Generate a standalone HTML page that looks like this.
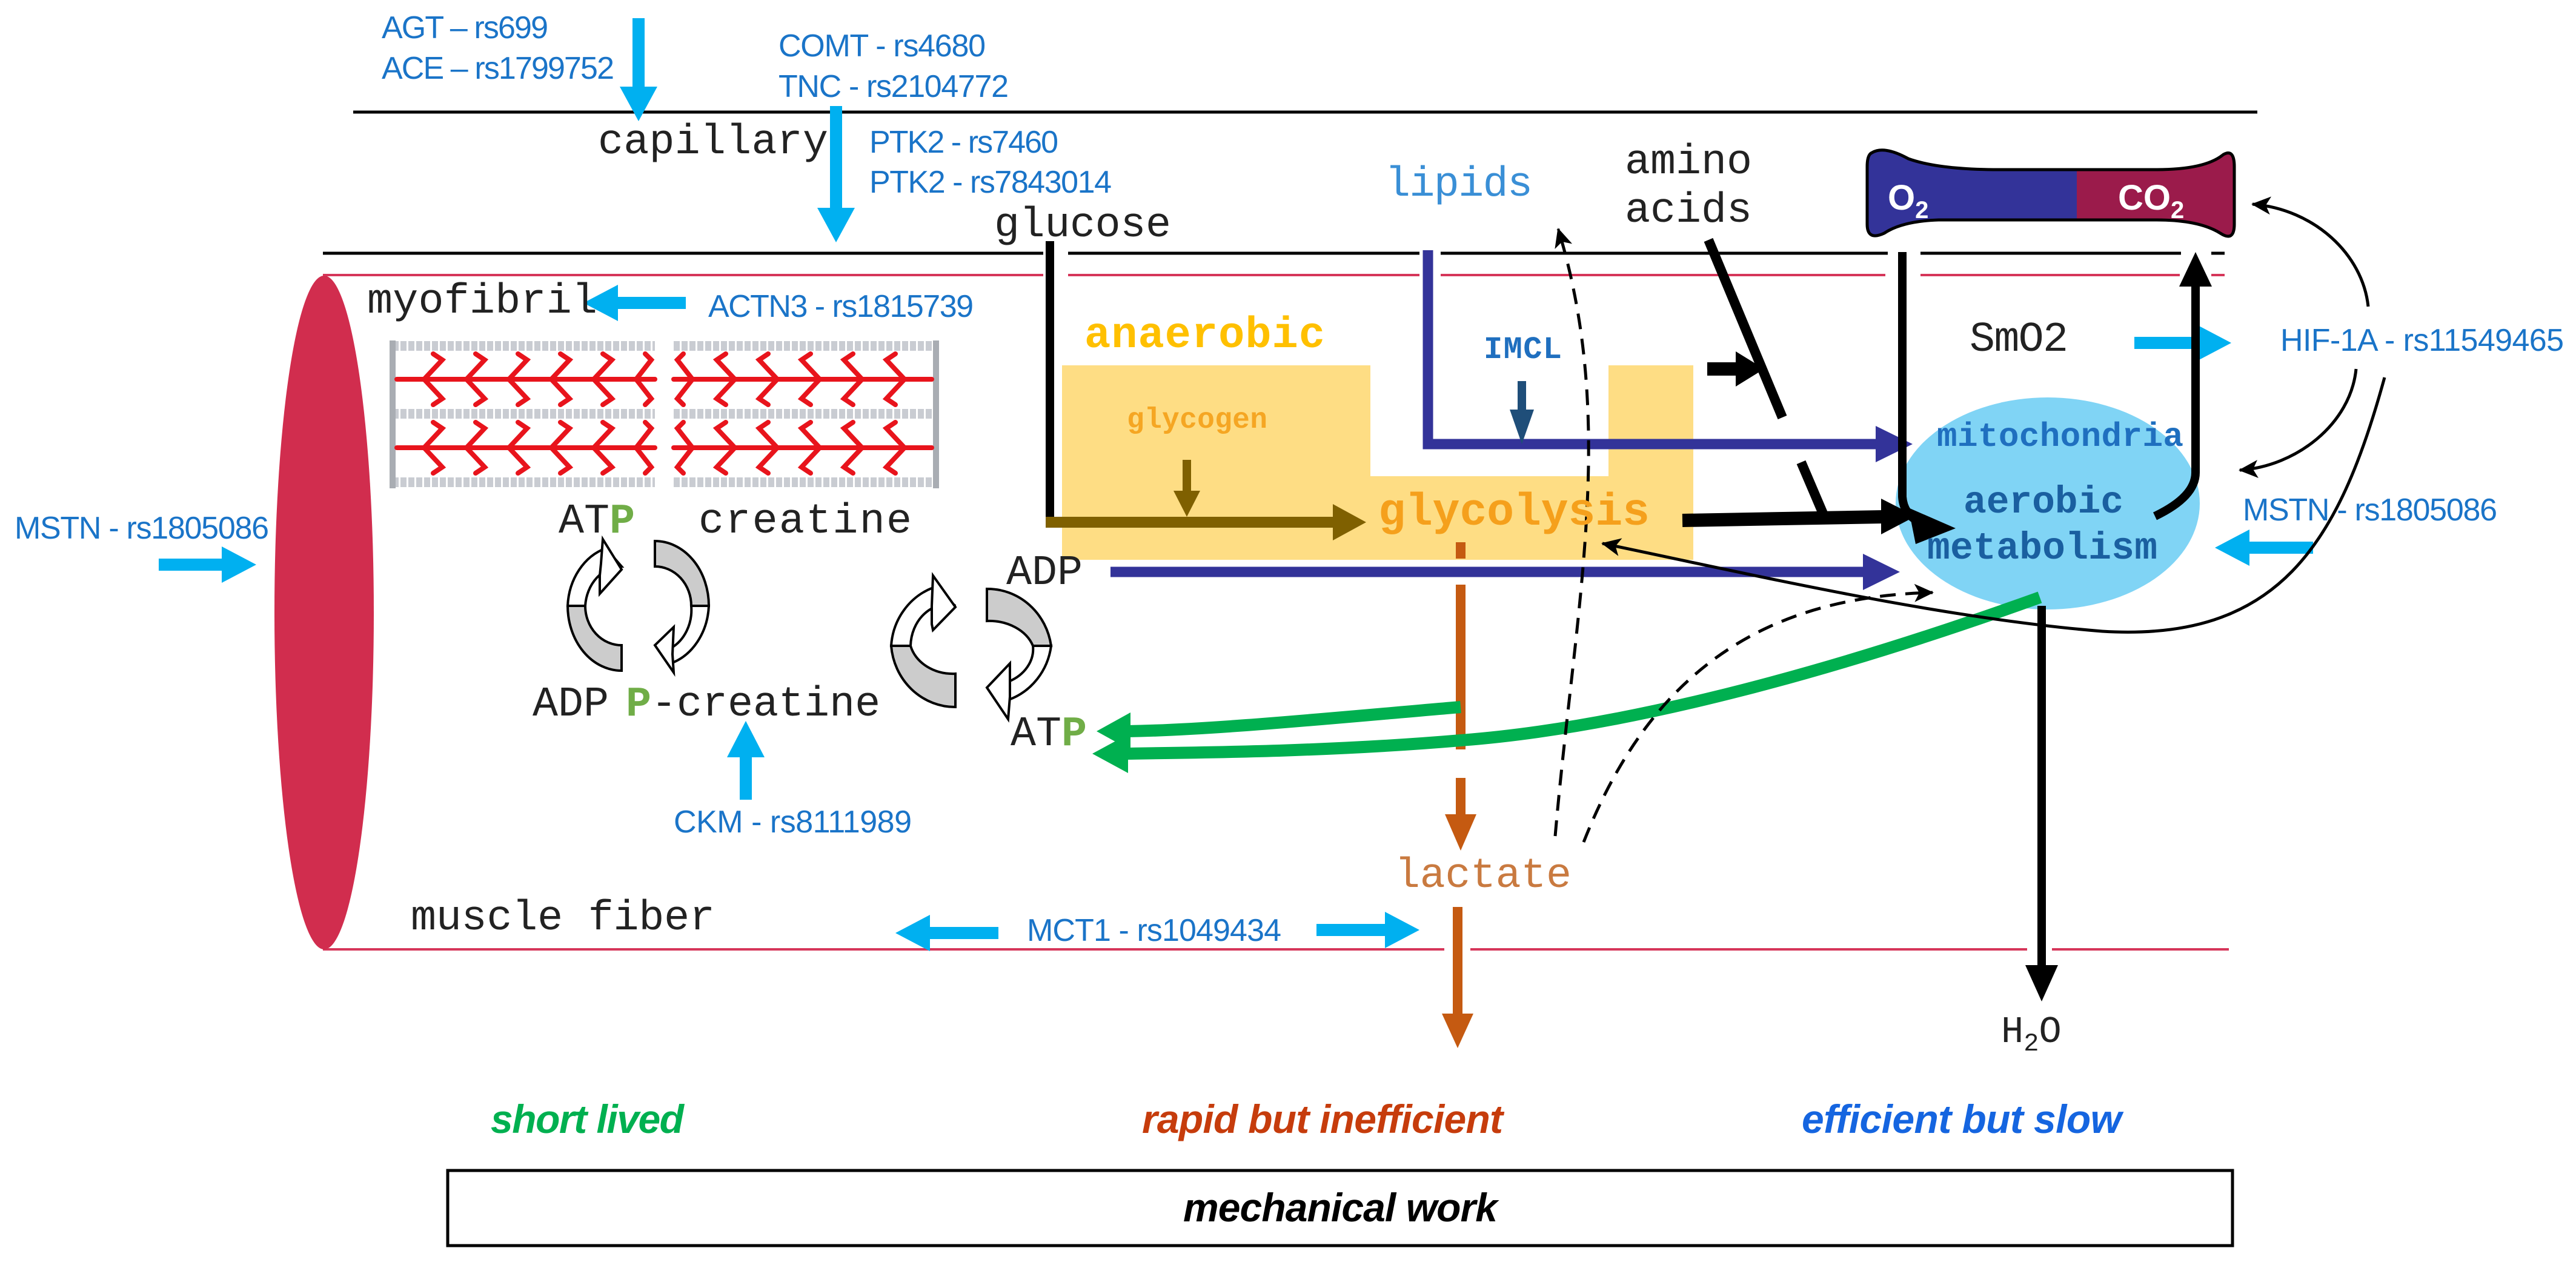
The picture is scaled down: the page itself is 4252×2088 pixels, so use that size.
<!DOCTYPE html>
<html><head><meta charset="utf-8"><style>
html,body{margin:0;padding:0;background:#fff;}
svg{display:block;}
.g{font-family:"Liberation Sans Narrow","Liberation Sans",sans-serif;fill:#1a74c8;font-size:52px;}
.m{font-family:"Liberation Mono",monospace;fill:#222;font-size:70px;}
.b{font-weight:bold;}
.it{font-family:"Liberation Sans Narrow","Liberation Sans",sans-serif;font-style:italic;font-weight:bold;font-size:66px;}
</style></head><body>
<svg width="4252" height="2088" viewBox="0 0 4252 2088" xmlns="http://www.w3.org/2000/svg">
<defs>
<marker id="ah" markerUnits="userSpaceOnUse" markerWidth="40" markerHeight="40" refX="30" refY="15" orient="auto"><path d="M0,0 L32,15 L0,30 L8,15 Z" fill="#000"/></marker>
<clipPath id="tube"><path d="M3090,252 Q3110,240 3150,262 Q3200,280 3300,280 L3560,280 Q3640,280 3670,255 Q3688,245 3688,275 L3688,370 Q3688,400 3665,385 Q3630,363 3560,363 L3200,363 Q3140,365 3110,385 Q3082,398 3082,370 L3082,275 Q3082,255 3090,252 Z"/></clipPath>
</defs>
<rect width="4252" height="2088" fill="#fff"/>

<polygon points="1753,603 2262,603 2262,786 2655,786 2655,603 2795,603 2795,924 1753,924" fill="#fedd84"/>

<line x1="583" y1="185" x2="3726" y2="185" stroke="#000" stroke-width="5"/>
<g stroke="#000" stroke-width="5">
<line x1="533" y1="418" x2="1722" y2="418"/><line x1="1763" y1="418" x2="2343" y2="418"/>
<line x1="2378" y1="418" x2="3116" y2="418"/><line x1="3170" y1="418" x2="3600" y2="418"/>
<line x1="3650" y1="418" x2="3672" y2="418"/>
</g>
<g stroke="#d6365a" stroke-width="4">
<line x1="533" y1="454" x2="1722" y2="454"/><line x1="1763" y1="454" x2="2343" y2="454"/>
<line x1="2378" y1="454" x2="3112" y2="454"/><line x1="3170" y1="454" x2="3598" y2="454"/>
<line x1="3650" y1="454" x2="3672" y2="454"/>
<line x1="533" y1="1567" x2="2384" y2="1567"/><line x1="2427" y1="1567" x2="3346" y2="1567"/><line x1="3387" y1="1567" x2="3679" y2="1567"/>
</g>

<ellipse cx="535" cy="1011" rx="82" ry="556" fill="#d12d4e"/>

<g>
<g stroke="#c9ccd2" stroke-width="16" stroke-dasharray="10 3">
<line x1="648" y1="571" x2="1081" y2="571"/><line x1="648" y1="683" x2="1081" y2="683"/><line x1="648" y1="796" x2="1081" y2="796"/>
<line x1="1112" y1="571" x2="1545" y2="571"/><line x1="1112" y1="683" x2="1545" y2="683"/><line x1="1112" y1="796" x2="1545" y2="796"/>
</g>
<g stroke="#a9adb3" stroke-width="10"><line x1="648" y1="562" x2="648" y2="806"/><line x1="1545" y1="562" x2="1545" y2="806"/></g>
<g stroke="#e8141c" stroke-width="8" fill="none" stroke-linecap="round">
<line x1="655" y1="626" x2="1081" y2="626"/><line x1="655" y1="739" x2="1081" y2="739"/>
<line x1="1112" y1="626" x2="1538" y2="626"/><line x1="1112" y1="739" x2="1538" y2="739"/>
<path d="M700,626 L730,594 L715,584 M700,626 L730,658 L715,668 M770,626 L800,594 L785,584 M770,626 L800,658 L785,668 M840,626 L870,594 L855,584 M840,626 L870,658 L855,668 M910,626 L940,594 L925,584 M910,626 L940,658 L925,668 M980,626 L1010,594 L995,584 M980,626 L1010,658 L995,668 M1050,626 L1075,594 L1065,584 M1050,626 L1075,658 L1065,668"/>
<path d="M700,739 L730,707 L715,697 M700,739 L730,771 L715,781 M770,739 L800,707 L785,697 M770,739 L800,771 L785,781 M840,739 L870,707 L855,697 M840,739 L870,771 L855,781 M910,739 L940,707 L925,697 M910,739 L940,771 L925,781 M980,739 L1010,707 L995,697 M980,739 L1010,771 L995,781 M1050,739 L1075,707 L1065,697 M1050,739 L1075,771 L1065,781"/>
<path d="M1493,626 L1463,594 L1478,584 M1493,626 L1463,658 L1478,668 M1423,626 L1393,594 L1408,584 M1423,626 L1393,658 L1408,668 M1353,626 L1323,594 L1338,584 M1353,626 L1323,658 L1338,668 M1283,626 L1253,594 L1268,584 M1283,626 L1253,658 L1268,668 M1213,626 L1183,594 L1198,584 M1213,626 L1183,658 L1198,668 M1143,626 L1118,594 L1128,584 M1143,626 L1118,658 L1128,668"/>
<path d="M1493,739 L1463,707 L1478,697 M1493,739 L1463,771 L1478,781 M1423,739 L1393,707 L1408,697 M1423,739 L1393,771 L1408,781 M1353,739 L1323,707 L1338,697 M1353,739 L1323,771 L1338,781 M1283,739 L1253,707 L1268,697 M1283,739 L1253,771 L1268,781 M1213,739 L1183,707 L1198,697 M1213,739 L1183,771 L1198,781 M1143,739 L1118,707 L1128,697 M1143,739 L1118,771 L1128,781"/>
</g>
</g>

<g stroke="#000" stroke-width="4">
<path d="M1026,935 A60,70 0 0 0 966,1000 L937,1000 A89,105 0 0 1 1000,905 Z" fill="#fff"/>
<polygon points="992,930 995,890 1026,940 990,980 990,950" fill="#fff"/>
<path d="M937,1000 A89,107 0 0 0 1026,1107 L1026,1065 A60,65 0 0 1 966,1000 Z" fill="#ccc"/>
<path d="M1081,893 A89,107 0 0 1 1170,1000 L1141,1000 A60,65 0 0 0 1081,935 Z" fill="#ccc"/>
<path d="M1170,1000 A89,105 0 0 1 1107,1095 L1107,1070 A60,70 0 0 0 1141,1000 Z" fill="#fff"/>
<polygon points="1112,1035 1081,1065 1112,1110 1110,1080" fill="#fff"/>
<path d="M1577,1000 A60,70 0 0 0 1503,1066 L1471,1066 A106,110 0 0 1 1540,970 Z" fill="#fff"/>
<polygon points="1538,1000 1540,950 1577,1002 1540,1040 1538,1030" fill="#fff"/>
<path d="M1471,1066 A106,110 0 0 0 1577,1167 L1577,1112 A72,60 0 0 1 1503,1066 Z" fill="#ccc"/>
<path d="M1629,972 A106,110 0 0 1 1735,1066 L1705,1066 A76,60 0 0 0 1629,1025 Z" fill="#ccc"/>
<path d="M1735,1066 A106,110 0 0 1 1665,1155 L1665,1125 A72,60 0 0 0 1705,1066 Z" fill="#fff"/>
<polygon points="1667,1095 1629,1135 1664,1187 1667,1150" fill="#fff"/>
</g>

<g fill="#00b0f0">
<polygon points="1044,30 1064,30 1064,143 1085,143 1054,200 1023,143 1044,143"/>
<polygon points="1370,175 1390,175 1390,343 1411,343 1380,400 1349,343 1370,343"/>
<polygon points="1132,490 1020,490 1020,470 963,500 1020,530 1020,510 1132,510"/>
<polygon points="262,922 366,922 366,902 423,932 366,962 366,942 262,942"/>
<polygon points="1221,1320 1221,1250 1200,1250 1231,1190 1262,1250 1241,1250 1241,1320"/>
<polygon points="1648,1530 1535,1530 1535,1510 1478,1540 1535,1570 1535,1550 1648,1550"/>
<polygon points="2173,1525 2286,1525 2286,1505 2343,1535 2286,1565 2286,1545 2173,1545"/>
<polygon points="3523,556 3626,556 3626,536 3683,566 3626,596 3626,576 3523,576"/>
<polygon points="3818,894 3713,894 3713,874 3656,904 3713,934 3713,914 3818,914"/>
</g>

<path d="M1733,398 V866" stroke="#000" stroke-width="14" fill="none"/>
<line x1="1726" y1="862" x2="2205" y2="862" stroke="#7f6000" stroke-width="18"/>
<polygon points="2200,832 2255,862 2200,892" fill="#7f6000"/>
<line x1="1959" y1="759" x2="1959" y2="815" stroke="#7f6000" stroke-width="14"/>
<polygon points="1937,810 1981,810 1959,853" fill="#7f6000"/>

<line x1="1833" y1="944" x2="3080" y2="944" stroke="#333399" stroke-width="17"/>
<polygon points="3075,914 3136,944 3075,974" fill="#333399"/>
<path d="M2357,413 V733 H3100" stroke="#333399" stroke-width="17" fill="none"/>
<polygon points="3096,703 3157,733 3096,763" fill="#333399"/>
<line x1="2512" y1="629" x2="2512" y2="680" stroke="#1f4e79" stroke-width="14"/>
<polygon points="2492,676 2532,676 2512,733" fill="#1f4e79"/>

<ellipse cx="3380" cy="831" rx="251" ry="175" fill="#80d4f5"/>

<line x1="2820" y1="396" x2="2942" y2="689" stroke="#000" stroke-width="16"/>
<line x1="2973" y1="763" x2="3014" y2="859" stroke="#000" stroke-width="16"/>
<line x1="2818" y1="609" x2="2870" y2="609" stroke="#000" stroke-width="22"/>
<polygon points="2865,580 2912,609 2865,638" fill="#000"/>
<line x1="2777" y1="859" x2="3110" y2="853" stroke="#000" stroke-width="22"/>
<polygon points="3105,823 3162,852 3105,882" fill="#000"/>
<path d="M3140,416 V820 Q3142,850 3170,862" stroke="#000" stroke-width="14" fill="none"/>
<polygon points="3150,838 3228,872 3162,898" fill="#000"/>
<path d="M3557,852 Q3624,820 3624,780 V470" stroke="#000" stroke-width="14" fill="none"/>
<polygon points="3597,473 3651,473 3624,416" fill="#000"/>
<line x1="3370" y1="1000" x2="3370" y2="1600" stroke="#000" stroke-width="14"/>
<polygon points="3343,1593 3397,1593 3370,1653" fill="#000"/>

<g stroke="#c55a11" stroke-width="16">
<line x1="2411" y1="895" x2="2411" y2="922"/><line x1="2411" y1="965" x2="2411" y2="1237"/>
<line x1="2411" y1="1284" x2="2411" y2="1350"/><line x1="2406" y1="1497" x2="2406" y2="1680"/>
</g>
<polygon points="2385,1344 2437,1344 2411,1404" fill="#c55a11"/>
<polygon points="2380,1673 2432,1673 2406,1730" fill="#c55a11"/>

<g stroke="#00b050" stroke-width="20" fill="none">
<path d="M3367,986 C3050,1100 2700,1200 2411,1222 C2200,1240 2000,1242 1855,1244"/>
<path d="M2411,1167 C2200,1185 2000,1205 1860,1207"/>
</g>
<polygon points="1862,1212 1803,1244 1862,1276" fill="#00b050"/>
<polygon points="1866,1176 1810,1207 1866,1238" fill="#00b050"/>

<g stroke="#000" stroke-width="5" fill="none" stroke-dasharray="26 16">
<path d="M2567,1380 C2600,1000 2670,700 2572,378" marker-end="url(#ah)"/>
<path d="M2614,1390 C2720,1120 2900,985 3190,978" marker-end="url(#ah)"/>
</g>
<g stroke="#000" stroke-width="5" fill="none">
<path d="M3909,506 C3900,420 3820,345 3718,337" marker-end="url(#ah)"/>
<path d="M3889,609 C3880,700 3790,770 3697,776" marker-end="url(#ah)"/>
<path d="M3936,623 C3860,900 3760,1060 3470,1042 C3200,1020 2900,950 2645,897" marker-end="url(#ah)"/>
</g>

<g clip-path="url(#tube)">
<rect x="3070" y="230" width="360" height="180" fill="#333399"/>
<rect x="3428" y="230" width="270" height="180" fill="#9b1b4b"/>
</g>
<path d="M3090,252 Q3110,240 3150,262 Q3200,280 3300,280 L3560,280 Q3640,280 3670,255 Q3688,245 3688,275 L3688,370 Q3688,400 3665,385 Q3630,363 3560,363 L3200,363 Q3140,365 3110,385 Q3082,398 3082,370 L3082,275 Q3082,255 3090,252 Z" fill="none" stroke="#000" stroke-width="5"/>
<text x="3116" y="346" style="font-family:'Liberation Sans',sans-serif;font-weight:bold;font-size:58px;fill:#fff">O<tspan style="font-size:40px" dy="14">2</tspan></text>
<text x="3496" y="346" style="font-family:'Liberation Sans',sans-serif;font-weight:bold;font-size:58px;fill:#fff">CO<tspan style="font-size:40px" dy="14">2</tspan></text>

<text class="g" x="630" y="63" textLength="275">AGT – rs699</text>
<text class="g" x="630" y="130" textLength="384">ACE – rs1799752</text>
<text class="g" x="1285" y="93" textLength="342">COMT - rs4680</text>
<text class="g" x="1285" y="160" textLength="380">TNC - rs2104772</text>
<text class="g" x="1435" y="252" textLength="312">PTK2 - rs7460</text>
<text class="g" x="1435" y="318" textLength="400">PTK2 - rs7843014</text>
<text class="g" x="1169" y="523" textLength="438">ACTN3 - rs1815739</text>
<text class="g" x="24" y="889" textLength="420">MSTN - rs1805086</text>
<text class="g" x="1112" y="1374" textLength="393">CKM - rs8111989</text>
<text class="g" x="1695" y="1553" textLength="420">MCT1 - rs1049434</text>
<text class="g" x="3764" y="579" textLength="468">HIF-1A - rs11549465</text>
<text class="g" x="3702" y="859" textLength="420">MSTN - rs1805086</text>

<text class="m" x="987" y="253" textLength="380">capillary</text>
<text class="m" x="1641" y="390" textLength="292">glucose</text>
<text class="m" x="606" y="516" textLength="380">myofibril</text>
<text class="m" x="922" y="879">AT<tspan style="fill:#70ad47;font-weight:bold">P</tspan></text>
<text class="m" x="1153" y="879" textLength="352">creatine</text>
<text class="m" x="1661" y="964">ADP</text>
<text class="m" x="879" y="1181">ADP</text>
<text class="m" x="1033" y="1181"><tspan style="fill:#70ad47;font-weight:bold">P</tspan>-creatine</text>
<text class="m" x="1668" y="1230">AT<tspan style="fill:#70ad47;font-weight:bold">P</tspan></text>
<text class="m" x="678" y="1534" textLength="502">muscle fiber</text>
<text class="m" x="2302" y="1464" textLength="292" style="fill:#c97a40">lactate</text>
<text class="m" x="3303" y="1720" style="font-size:62px">H<tspan style="font-size:42px" dy="14">2</tspan><tspan dy="-14">O</tspan></text>
<text class="m" x="2286" y="323" textLength="244" style="fill:#3a8fd6">lipids</text>
<text class="m" x="2682" y="286">amino</text>
<text class="m" x="2682" y="366">acids</text>
<text class="m" x="3251" y="579" textLength="163">SmO2</text>
<text class="m b" x="1790" y="573" textLength="397" style="fill:#ffc000;font-size:72px">anaerobic</text>
<text class="m b" x="1860" y="706" textLength="232" style="fill:#f5a623;font-size:48px">glycogen</text>
<text class="m b" x="2275" y="866" textLength="448" style="fill:#f5a01c;font-size:75px">glycolysis</text>
<text class="m b" x="2449" y="591" textLength="129" style="fill:#1f6fbf;font-size:52px">IMCL</text>
<text class="m b" x="3197" y="736" textLength="407" style="fill:#1f6fbf;font-size:56px">mitochondria</text>
<text class="m b" x="3241" y="846" textLength="264" style="fill:#1a5fa0;font-size:63px">aerobic</text>
<text class="m b" x="3181" y="922" textLength="380" style="fill:#1a5fa0;font-size:63px">metabolism</text>

<text class="it" x="810" y="1870" textLength="319" style="fill:#00b050">short lived</text>
<text class="it" x="1885" y="1870" textLength="596" style="fill:#c63c0c">rapid but inefficient</text>
<text class="it" x="2974" y="1870" textLength="528" style="fill:#1565e0">efficient but slow</text>
<rect x="739" y="1932" width="2946" height="124" fill="none" stroke="#000" stroke-width="5"/>
<text class="it" x="1953" y="2016" textLength="519" style="fill:#000">mechanical work</text>
</svg>
</body></html>
